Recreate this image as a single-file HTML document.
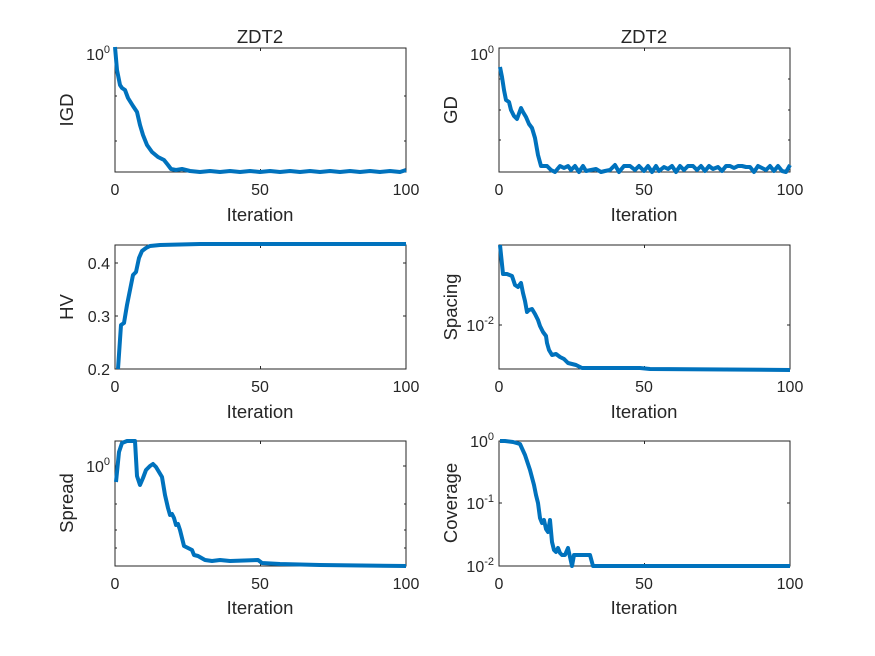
<!DOCTYPE html>
<html><head><meta charset="utf-8"><style>body{margin:0;background:#fff}svg{display:block}text{font-family:"Liberation Sans",sans-serif;fill:#262626}</style></head><body>
<svg width="875" height="656" viewBox="0 0 875 656" xmlns="http://www.w3.org/2000/svg">
<rect width="875" height="656" fill="#fff"/>
<g font-size="16">
<g fill="none" stroke="#262626" stroke-width="1">
<rect x="115" y="48" width="291" height="124"/><rect x="499" y="48" width="291" height="124"/>
<rect x="115" y="245" width="291" height="124"/><rect x="499" y="245" width="291" height="124"/>
<rect x="115" y="441" width="291" height="125"/><rect x="499" y="441" width="291" height="125"/>
<path d="M260.5 172v-3M260.5 48v3M644.5 172v-3M644.5 48v3M260.5 369v-3M260.5 245v3M644.5 369v-3M644.5 245v3M260.5 566v-3M260.5 441v3M644.5 566v-3M644.5 441v3"/>
<path d="M115 263h3M406 263h-3M115 316h3M406 316h-3M499 325h3M790 325h-3M115 466h3M406 466h-3M499 503h3M790 503h-3"/>
<path d="M115 96h2M406 96h-2M115 141h2M406 141h-2M499 79h2M790 79h-2M499 110h2M790 110h-2M499 140h2M790 140h-2M115 504h2M406 504h-2M115 530h2M406 530h-2M115 548h2M406 548h-2"/>
</g>
<g text-anchor="middle">
<text x="115" y="195">0</text><text x="260" y="195">50</text><text x="406" y="195">100</text>
<text x="499" y="195">0</text><text x="644" y="195">50</text><text x="790" y="195">100</text>
<text x="115" y="392">0</text><text x="260" y="392">50</text><text x="406" y="392">100</text>
<text x="499" y="392">0</text><text x="644" y="392">50</text><text x="790" y="392">100</text>
<text x="115" y="589">0</text><text x="260" y="589">50</text><text x="406" y="589">100</text>
<text x="499" y="589">0</text><text x="644" y="589">50</text><text x="790" y="589">100</text>
<g font-size="18.5">
<text x="260" y="221">Iteration</text><text x="644" y="221">Iteration</text>
<text x="260" y="418">Iteration</text><text x="644" y="418">Iteration</text>
<text x="260" y="614">Iteration</text><text x="644" y="614">Iteration</text>
<text x="260" y="43">ZDT2</text><text x="644" y="43">ZDT2</text>
<text transform="translate(73 110) rotate(-90)">IGD</text>
<text transform="translate(457 110) rotate(-90)">GD</text>
<text transform="translate(73 307) rotate(-90)">HV</text>
<text transform="translate(457 307) rotate(-90)">Spacing</text>
<text transform="translate(73 503) rotate(-90)">Spread</text>
<text transform="translate(457 503) rotate(-90)">Coverage</text>
</g>
</g>
<g text-anchor="end">
<text x="110" y="60">10<tspan font-size="11" dy="-7">0</tspan></text>
<text x="494" y="60">10<tspan font-size="11" dy="-7">0</tspan></text>
<text x="110" y="269">0.4</text><text x="110" y="322">0.3</text><text x="110" y="375">0.2</text>
<text x="494" y="331">10<tspan font-size="11" dy="-7">-2</tspan></text>
<text x="110" y="472">10<tspan font-size="11" dy="-7">0</tspan></text>
<text x="494" y="447">10<tspan font-size="11" dy="-7">0</tspan></text>
<text x="494" y="509">10<tspan font-size="11" dy="-7">-1</tspan></text>
<text x="494" y="572">10<tspan font-size="11" dy="-7">-2</tspan></text>
</g>
</g>
<g fill="none" stroke="#0072BD" stroke-width="4" stroke-linejoin="round">
<polyline points="115,47 117,70 120,85 122,88 125,90 128,98 133,106 137,112 140,125 143,135 147,145 152,152 158,157 164,160 168,165 171,169 176,170 182,169 190,171 200,172 210,171 220,172 230,171 240,172 250,171 260,172 270,171 280,172 290,171 300,172 310,171 320,172 330,171 340,172 350,171 360,172 370,171 380,172 390,171 400,172 406,170"/>
<polyline points="500,67 502,77 504,90 506,100 509,102 511,110 514,116 517,119 521,108 523,112 526,117 529,124 532,128 535,138 538,155 541,166 547,166 551,170 555,172 560,166 564,168 568,166 571,170 575,166 579,172 583,166 586,171 591,170 596,169 601,172 605,171 610,170 615,165 619,172 624,166 630,166 635,170 639,166 644,171 648,166 652,172 656,166 659,171 664,167 668,169 672,166 676,172 680,166 684,170 688,166 693,166 697,170 701,166 705,171 709,166 713,169 718,167 722,171 726,166 730,166 734,168 738,166 742,166 746,167 750,167 754,172 758,166 762,168 766,170 770,166 774,171 778,166 782,171 786,172 790,165"/>
<polyline points="118,369 121,325 124,323 127,305 130,290 133,275 136,272 139,258 142,251 146,248 150,246 160,245 200,244 406,244"/>
<polyline points="500,245 503,274 507,274 512,276 515,285 518,287 521,283 523,293 525,301 527,312 529,310 532,309 535,314 538,320 540,326 543,332 546,336 547,343 549,350 552,355 556,354 560,357 564,359 568,363 572,364 576,365 582,368 590,368 610,368 640,368 650,369 790,370"/>
<polyline points="116,482 119,452 122,443 127,441 132,441 135,441 137,476 140,485 143,478 146,470 150,466 153,464 156,467 159,472 162,477 165,495 168,508 170,515 172,514 174,518 176,525 178,524 180,530 182,538 184,546 188,548 192,550 194,555 198,556 205,560 212,561 220,560 230,561 258,560 262,563 280,564 320,565 406,566"/>
<polyline points="500,441 505,441 513,442 520,444 525,455 530,470 534,485 536,495 538,503 540,518 542,523 544,520 546,529 548,532 550,520 552,542 554,550 556,552 558,548 560,553 562,555 565,555 568,548 570,557 572,566 574,555 590,555 593,566 790,566"/>
</g>
</svg>
</body></html>
